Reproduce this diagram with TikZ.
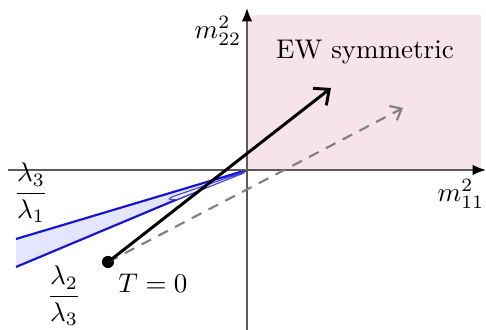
\documentclass[tikz,border=0pt]{standalone}
\usepackage{amsmath}
\usetikzlibrary{arrows.meta}
\definecolor{ewpink}{RGB}{247,228,235}
\definecolor{axisgray}{RGB}{90,90,90}
\definecolor{wedgeblue}{RGB}{20,20,210}
\begin{document}
\begin{tikzpicture}[x={(0.01302cm,0)},y={(0,-0.01302cm)},
  axis/.style={draw=axisgray,line width=0.7pt,-{Latex[length=5pt,width=4pt,color=black]}},
  trail/.style={line width=1.1pt,-{Straight Barb[length=4.5pt,width=8pt]}},
  dtrail/.style={draw=gray,line width=0.8pt,dash pattern=on 4pt off 3pt,-{Straight Barb[length=3.5pt,width=6pt]}},
  lbl/.style={inner sep=0pt}]
\useasboundingbox (0,0) rectangle (486,330);
% symmetric region
\fill[ewpink] (247,15) rectangle (481,170);
% wedge
\coordinate (O) at (247,170);
\coordinate (WU) at (16,239);
\coordinate (WL) at (16,267);
\fill[blue!10] (O) -- (WU) -- (WL) -- cycle;
\draw[wedgeblue,line width=0.8pt] (O) -- (WU);
\draw[wedgeblue,line width=0.8pt] (O) -- (WL);
\draw[wedgeblue!80,line width=0.4pt,fill=blue!5] (244,172) -- (176,195.5) .. controls (167,198.5) and (167,200.5) .. (177,199.5) -- (244,173) -- cycle;
% axes
\coordinate (XL) at (8,170);
\coordinate (XR) at (486,170);
\coordinate (YB) at (247,330);
\coordinate (YT) at (247,8);
\draw[axis] (XL) -- (XR);
\draw[axis] (YB) -- (YT);
% trajectories
\node[circle,fill=black,inner sep=0pt,minimum size=4.5pt] (T0) at (108,262) {};
\coordinate (DE) at (403,108);
\coordinate (BE) at (331,88);
\draw[dtrail] (T0.center) -- (DE);
\draw[trail] (T0.center) -- (BE);
% labels
\node[lbl] (m22) at (218,31) {$m^2_{22}$};
\node[lbl] (ew) at (365,52) {EW symmetric};
\node[lbl] (m11) at (461,194) {$m^2_{11}$};
\node[lbl] (r31) at (31,193) {$\dfrac{\lambda_3}{\lambda_1}$};
\node[lbl] (r23) at (64,296) {$\dfrac{\lambda_2}{\lambda_3}$};
\node[lbl] (tz) at (153,283) {$T=0$};
\end{tikzpicture}
\end{document}
